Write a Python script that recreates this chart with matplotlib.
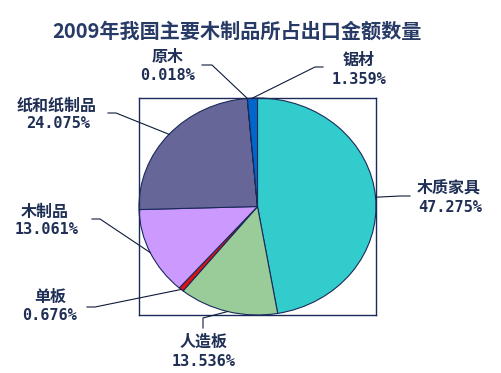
import numpy as np
import matplotlib.pyplot as plt

plt.rcParams['font.family'] = ['Noto Sans CJK SC', 'DejaVu Sans']

# data, clockwise from the top
categories = ["木质家具", "人造板", "单板", "木制品", "纸和纸制品", "原木", "锯材"]
shares = [47.275, 13.536, 0.676, 13.061, 24.075, 0.018, 1.359]
colors = ["#33CCCC", "#99CC99", "#E01010", "#CC99FF", "#666699", "#3333CC", "#0066CC"]

# label centres (pixels from top-left): name line, percent line
name_pos = {
    "木质家具": (449, 188),
    "人造板": (204, 342),
    "单板": (50, 297),
    "木制品": (45, 212),
    "纸和纸制品": (57, 106),
    "原木": (168, 57),
    "锯材": (359, 60),
}
pct_pos = {
    "木质家具": (450, 207),
    "人造板": (204, 361),
    "单板": (50, 316),
    "木制品": (47, 230),
    "纸和纸制品": (58, 124),
    "原木": (168, 75),
    "锯材": (359, 79),
}
leader_start = {
    "木质家具": [(410, 196), (400, 196)],
    "人造板": [(203, 328), (203, 318)],
    "单板": [(87, 307), (95, 307)],
    "木制品": [(92, 219), (100, 219)],
    "纸和纸制品": [(108, 113), (116, 113)],
    "原木": [(202, 65), (212, 65)],
    "锯材": [(323, 67), (315, 67)],
}

W, H = 502, 373
navy = "#1F2F55"
fig = plt.figure(figsize=(W / 100, H / 100), dpi=100)
fig.patch.set_facecolor("white")

box = (139, 98, 376, 315)
ax = fig.add_axes([box[0] / W, 1 - box[3] / H, (box[2] - box[0]) / W, (box[3] - box[1]) / H])
wedges, _ = ax.pie(shares, colors=colors, startangle=90, counterclock=False,
                   wedgeprops=dict(edgecolor="#1A2A5A", linewidth=0.8), frame=True)
ax.set_aspect("auto")
ax.set_xlim(-1, 1)
ax.set_ylim(-1, 1)
ax.set_xticks([])
ax.set_yticks([])
for s in ax.spines.values():
    s.set_color("#1A2A5A")
    s.set_linewidth(1.0)

fig.text(237 / W, 1 - 31 / H, "2009年我国主要木制品所占出口金额数量", ha="center", va="center",
         fontsize=14.5, fontweight="bold", color="#283A66")

cum = np.cumsum([0] + shares[:-1])
for name, v, c0 in zip(categories, shares, cum):
    ang = np.deg2rad(90 - 360 * (c0 + v / 2) / 100)
    # point on the pie edge in pixels
    p = ax.transData.transform((np.cos(ang), np.sin(ang)))
    pts = [(x, H - y) for x, y in leader_start[name]] + [tuple(p)]
    xs, ys = zip(*pts)
    fig.add_artist(plt.Line2D(xs, ys, transform=None, color="#0D1B3A", lw=0.8))
    nx, ny = name_pos[name]
    fig.text(nx / W, 1 - ny / H, name, ha="center", va="center",
             fontsize=11.5, fontweight="bold", color=navy)
    px, py = pct_pos[name]
    fig.text(px / W, 1 - py / H, f"{v:.3f}%", ha="center", va="center",
             fontsize=11, fontweight="bold", color=navy, family="DejaVu Sans Mono")

fig.savefig("out.png", dpi=100)
